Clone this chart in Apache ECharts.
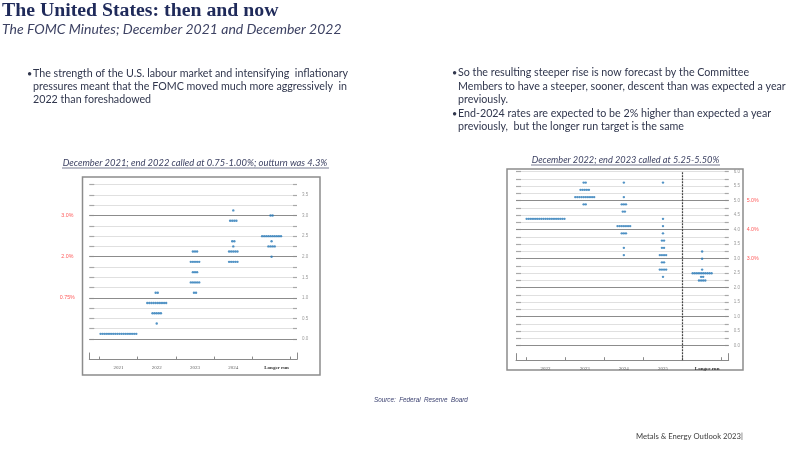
<!DOCTYPE html>
<html><head><meta charset="utf-8">
<script src="https://cdn.jsdelivr.net/npm/echarts@6/dist/echarts.min.js"></script>
<style>html,body{margin:0;padding:0;background:#fff}#c{width:800px;height:450px}</style>
</head><body><div id="c"></div>
<script>
// ---------- data ----------
// Dec 2021 dot plot: each column = list of [rate midpoint, number of participants]
const leftCats = ['2021', '2022', '2023', '2024', 'Longer run'];
const left2021 = [[0.125, 18]];
const left2022 = [[0.375, 1], [0.625, 5], [0.875, 10], [1.125, 2]];
const left2023 = [[1.125, 2], [1.375, 5], [1.625, 3], [1.875, 5], [2.125, 3]];
const left2024 = [[1.875, 5], [2.125, 5], [2.25, 1], [2.375, 2], [2.875, 4], [3.125, 1]];
const leftLR   = [[2.0, 1], [2.25, 4], [2.375, 1], [2.5, 10], [3.0, 2]];
const leftMax = 3.75;
const leftSolid = [0, 1, 2, 3];
const leftRedLevels = [3, 2, 1];
const leftRedTexts = ['3.0%', '2.0%', '0.75%'];

// Dec 2022 dot plot
const rightCats = ['2022', '2023', '2024', '2025', 'Longer run'];
const right2022 = [[4.375, 19]];
const right2023 = [[4.875, 2], [5.125, 10], [5.375, 5], [5.625, 2]];
const right2024 = [[3.125, 1], [3.375, 1], [3.875, 3], [4.125, 7], [4.625, 2], [4.875, 3], [5.125, 1], [5.625, 1]];
const right2025 = [[2.375, 1], [2.625, 4], [2.875, 2], [3.125, 4], [3.375, 2], [3.625, 2], [3.875, 1], [4.125, 1], [4.375, 1], [5.625, 1]];
const rightLR   = [[2.25, 4], [2.375, 2], [2.5, 10], [2.625, 1], [3.0, 1], [3.25, 1]];
const rightMax = 6;
const rightSolid = [0, 1, 2, 3, 4, 5];
const rightRedLevels = [5, 4, 3];
const rightRedTexts = ['5.0%', '4.0%', '3.0%'];

// ---------- layout ----------
const LL = {wx0: 89.3, wx1: 297, dx0: 99.3, dx1: 290.7, yTop: 184.7, y0: 339};
const RL = {wx0: 516, wx1: 728.7, dx0: 526, dx1: 721.7, yTop: 171.7, y0: 345.7};
const DOT = '#2778b6';
const SPACING = 2.1;

function buildDots(cols) {
  const out = [];
  cols.forEach(function (col, ci) {
    col.forEach(function (pair) {
      const rate = pair[0], n = pair[1];
      for (let i = 0; i < n; i++) {
        out.push({value: [ci, rate], symbolOffset: [(i - (n - 1) / 2) * SPACING, 0]});
      }
    });
  });
  return out;
}
function near(a, b) { return Math.abs(a - b) < 1e-6; }
function halfLabel(v) { return near(v * 2, Math.round(v * 2)) ? v.toFixed(1) : ''; }
function redLabel(levels, texts) {
  return function (v) {
    for (let i = 0; i < levels.length; i++) if (near(v, levels[i])) return texts[i];
    return '';
  };
}

const grids = [], xAxes = [], yAxes = [], series = [];

function addChart(L, cats, cols, max, solid, redLevels, redTexts, redSide, dashedAt) {
  const unit = (L.y0 - L.yTop) / max;
  const dotsBottom = L.y0 + 0.5 * unit;
  const gW = grids.length;
  grids.push({left: L.wx0, width: L.wx1 - L.wx0, top: L.yTop, height: L.y0 - L.yTop});
  const gD = grids.length;
  grids.push({left: L.dx0, width: L.dx1 - L.dx0, top: L.yTop, height: dotsBottom - L.yTop});

  // wide x axis (long base line with end ticks)
  const xW = xAxes.length;
  xAxes.push({gridIndex: gW, type: 'value', min: 0, max: 1, interval: 1, position: 'bottom',
    offset: dotsBottom - L.y0,
    axisLine: {show: true, onZero: false, lineStyle: {color: '#8a8a8a', width: 1}},
    axisTick: {show: true, inside: true, length: 7, lineStyle: {color: '#8a8a8a'}},
    axisLabel: {show: false}, splitLine: {show: false}});
  // category axis for the dots
  const xD = xAxes.length;
  xAxes.push({gridIndex: gD, type: 'category', data: cats, boundaryGap: true, position: 'bottom',
    axisLine: {show: false, onZero: false},
    axisTick: {show: true, inside: true, interval: 0, length: 3, lineStyle: {color: '#8a8a8a'}},
    axisLabel: {show: true, interval: 0, margin: 6, fontSize: 5, color: '#5e5e5e', fontFamily: 'Liberation Serif',
      formatter: function (v) { return v === 'Longer run' ? '{b|' + v + '}' : v; },
      rich: {b: {fontSize: 5, fontWeight: 'bold', color: '#333', fontFamily: 'Liberation Serif', padding: [0, 0, 0, 10]}}},
    splitLine: {show: false}});
  // value axis over the same bands (band edges at integers) for the dashed separator
  const xB = xAxes.length;
  xAxes.push({gridIndex: gD, type: 'value', min: 0, max: cats.length, show: false});

  const yLeft = yAxes.length;
  yAxes.push({gridIndex: gW, type: 'value', min: 0, max: max, interval: 0.25, position: 'left',
    axisLine: {show: false},
    axisTick: {show: true, inside: true, length: 5, lineStyle: {color: '#a8a8a8', width: 1.2}},
    splitLine: {show: true, lineStyle: {color: '#e0e0e0', width: 1}},
    axisLabel: redSide === 'left'
      ? {show: true, margin: 22, align: 'center', color: '#ff5a5a', fontSize: 5.3, formatter: redLabel(redLevels, redTexts)}
      : {show: false}});
  yAxes.push({gridIndex: gW, type: 'value', min: 0, max: max, interval: 0.25, position: 'right',
    axisLine: {show: false},
    axisTick: {show: true, inside: true, length: 4, lineStyle: {color: '#a8a8a8', width: 1.2}},
    splitLine: {show: false},
    axisLabel: {show: true, margin: 5, color: '#9a9a9a', fontSize: 4.5, formatter: halfLabel}});
  if (redSide === 'right') {
    yAxes.push({gridIndex: gW, type: 'value', min: 0, max: max, interval: 0.25, position: 'right',
      axisLine: {show: false}, axisTick: {show: false}, splitLine: {show: false},
      axisLabel: {show: true, margin: 24, align: 'center', color: '#ff5a5a', fontSize: 5.3, formatter: redLabel(redLevels, redTexts)}});
  }
  const yD = yAxes.length;
  yAxes.push({gridIndex: gD, type: 'value', min: -0.5, max: max, show: false});

  // solid integer lines
  series.push({type: 'scatter', xAxisIndex: xW, yAxisIndex: yLeft, data: [], silent: true, z: 1,
    markLine: {silent: true, symbol: 'none', label: {show: false}, z: 1,
      lineStyle: {color: '#8c8c8c', width: 1.2, type: 'solid'},
      data: solid.map(function (v) { return {yAxis: v}; })}});
  if (dashedAt != null) {
    series.push({type: 'scatter', xAxisIndex: xB, yAxisIndex: yD, data: [], silent: true, z: 1,
      markLine: {silent: true, symbol: 'none', label: {show: false}, z: 1,
        lineStyle: {color: '#444', width: 1.2, type: [2, 1]},
        data: [{xAxis: dashedAt}]}});
  }
  series.push({type: 'scatter', xAxisIndex: xD, yAxisIndex: yD, symbol: 'circle', symbolSize: 2.4, z: 10,
    itemStyle: {color: DOT}, silent: true, data: buildDots(cols)});
}

addChart(LL, leftCats, [left2021, left2022, left2023, left2024, leftLR], leftMax, leftSolid, leftRedLevels, leftRedTexts, 'left', null);
addChart(RL, rightCats, [right2022, right2023, right2024, right2025, rightLR], rightMax, rightSolid, rightRedLevels, rightRedTexts, 'right', rightCats.indexOf('Longer run'));

const NAVY = '#1f2a5a', BODY = '#30364d', SUB = '#3d4263';
function txt(x, y, text, font, fill, align) {
  return {type: 'text', x: x, y: y, silent: true,
    style: {text: text, font: font, fill: fill, align: align || 'left', verticalAlign: 'middle'}};
}
const bodyFont = '10.7px Lato';
const bulletFont = '9px Lato';
const graphics = [
  txt(2, 11, 'The United States: then and now', 'bold 19.8px "Liberation Serif"', NAVY),
  txt(2, 29, 'The FOMC Minutes; December 2021 and December 2022', 'italic 14px Lato', SUB),
  txt(27, 74, '•', bulletFont, BODY),
  txt(33, 74, 'The strength of the U.S. labour market and intensifying  inflationary', bodyFont, BODY),
  txt(33, 87, 'pressures meant that the FOMC moved much more aggressively  in', bodyFont, BODY),
  txt(33, 100, '2022 than foreshadowed', bodyFont, BODY),
  txt(452, 73, '•', bulletFont, BODY),
  txt(458, 73, 'So the resulting steeper rise is now forecast by the Committee', bodyFont, BODY),
  txt(458, 87, 'Members to have a steeper, sooner, descent than was expected a year', bodyFont, BODY),
  txt(458, 100, 'previously.', bodyFont, BODY),
  txt(452, 114, '•', bulletFont, BODY),
  txt(458, 114, 'End-2024 rates are expected to be 2% higher than expected a year', bodyFont, BODY),
  txt(458, 127, 'previously,  but the longer run target is the same', bodyFont, BODY),
  txt(195, 163, 'December 2021; end 2022 called at 0.75-1.00%; outturn was 4.3%', 'italic 9.4px Lato', SUB, 'center'),
  {type: 'line', silent: true, shape: {x1: 62, y1: 168, x2: 329, y2: 168}, style: {stroke: SUB, lineWidth: 0.7}},
  txt(625.5, 160, 'December 2022; end 2023 called at 5.25-5.50%', 'italic 9.2px Lato', SUB, 'center'),
  {type: 'line', silent: true, shape: {x1: 531, y1: 165, x2: 720, y2: 165}, style: {stroke: SUB, lineWidth: 0.7}},
  {type: 'rect', silent: true, shape: {x: 82.5, y: 177, width: 237.5, height: 198}, style: {fill: 'none', stroke: '#8c8c8c', lineWidth: 1.5}},
  {type: 'rect', silent: true, shape: {x: 507, y: 169, width: 236, height: 201}, style: {fill: 'none', stroke: '#8c8c8c', lineWidth: 1.5}},
  txt(374, 400, 'Source:  Federal  Reserve  Board', 'italic 6.3px "Liberation Sans"', '#3b4170'),
  txt(636, 437, 'Metals & Energy Outlook 2023|', '7.7px Lato', '#404040')
];

const chart = echarts.init(document.getElementById('c'), null, {renderer: 'canvas'});
chart.setOption({
  animation: false,
  backgroundColor: '#ffffff',
  grid: grids, xAxis: xAxes, yAxis: yAxes, series: series,
  graphic: graphics
});
</script></body></html>
